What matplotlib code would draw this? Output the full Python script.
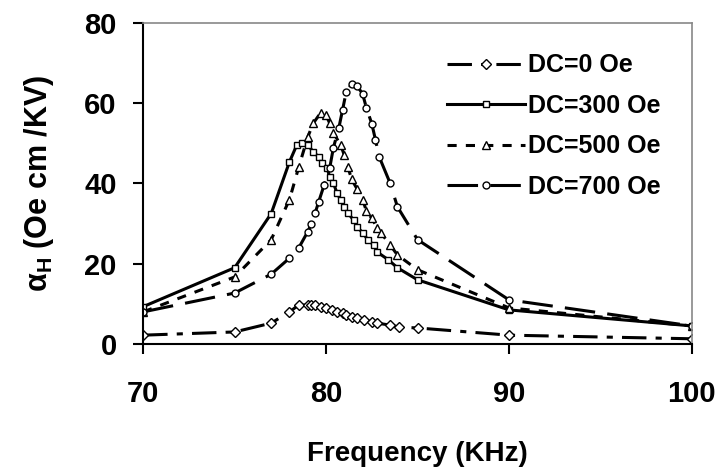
import matplotlib
matplotlib.use('Agg')
import matplotlib.pyplot as plt

# DC=0 Oe
f0 = [70, 75, 77, 78, 78.5, 79, 79.2, 79.4, 79.7, 80, 80.3, 80.6, 80.9, 81.1,
      81.4, 81.7, 82.1, 82.5, 82.8, 83.5, 84, 85, 90, 100]
v0 = [2.2, 3, 5.2, 8, 9.7, 9.7, 9.7, 9.7, 9.3, 9, 8.5, 8, 7.7, 7.2,
      6.7, 6.5, 6, 5.5, 5.2, 4.7, 4.2, 4, 2.2, 1.3]

# DC=300 Oe
f300 = [70, 75, 77, 78, 78.4, 78.7, 79, 79.3, 79.6, 79.8, 80.05, 80.2, 80.4, 80.6,
        80.8, 81, 81.2, 81.5, 81.7, 82, 82.3, 82.6, 82.8, 83.4, 83.9, 85, 90, 100]
v300 = [9.3, 19, 32.5, 45.4, 49.6, 50.1, 49.6, 47.9, 46.6, 45.1, 43.9, 41.6, 40.1, 37.6,
        35.9, 34.2, 32.6, 30.9, 29.2, 27.7, 25.9, 24.7, 22.9, 21, 19, 16, 8.5, 4.5]

# DC=500 Oe
f500 = [70, 75, 77, 78, 78.5, 79, 79.3, 79.7, 80, 80.2, 80.4, 80.8, 81, 81.2,
        81.4, 81.7, 82, 82.2, 82.5, 82.8, 83, 83.5, 83.9, 85, 90, 100]
v500 = [8, 16.7, 26, 36, 44, 51.6, 55, 57.6, 57, 55, 52.6, 49.6, 47, 44,
        41, 38.6, 36, 33.2, 31.3, 29, 27.7, 24.7, 22.2, 18.5, 9, 4.5]

# DC=700 Oe
f700 = [70, 75, 77, 78, 78.5, 79, 79.2, 79.4, 79.6, 79.9, 80.2, 80.4, 80.7, 80.9,
        81.1, 81.4, 81.7, 82, 82.2, 82.5, 82.7, 82.9, 83.5, 83.9, 85, 90, 100]
v700 = [8, 12.7, 17.4, 21.4, 23.9, 28, 30, 32.6, 35.5, 39.7, 43.9, 48.9, 53.9, 58.3,
        62.8, 64.8, 64.3, 62.3, 58.9, 54.9, 50.9, 46.7, 40.1, 34.2, 26, 11, 4.5]

labels = ['DC=0 Oe', 'DC=300 Oe', 'DC=500 Oe', 'DC=700 Oe']

plt.rcParams['font.family'] = ['Liberation Sans', 'DejaVu Sans']

fig = plt.figure(figsize=(7.23, 4.75), dpi=100)
ax = fig.add_axes([0.198, 0.2758, 0.759, 0.6758])

lw = 2.2
ax.plot(f0, v0, color='black', lw=lw, ls=(0, (8, 3, 2, 3)),
        marker='D', ms=5, mfc='white', mec='black', mew=1, label=labels[0])
ax.plot(f300, v300, color='black', lw=lw, ls='-',
        marker='s', ms=5, mfc='white', mec='black', mew=1, label=labels[1])
ax.plot(f500, v500, color='black', lw=lw, ls=(0, (3, 3)),
        marker='^', ms=6, mfc='white', mec='black', mew=1, label=labels[2])
ax.plot(f700, v700, color='black', lw=lw, ls=(0, (10, 4)),
        marker='o', ms=5, mfc='white', mec='black', mew=1, label=labels[3])

ax.set_xlim(70, 100)
ax.set_ylim(0, 80)
ax.set_xticks([70, 80, 90, 100])
ax.set_yticks([0, 20, 40, 60, 80])

for s in ['top', 'right']:
    ax.spines[s].set_color('#888888')
    ax.spines[s].set_linewidth(1.2)
for s in ['left', 'bottom']:
    ax.spines[s].set_color('black')
    ax.spines[s].set_linewidth(1.5)

ax.tick_params(axis='both', direction='out', length=7, width=1.5,
               labelsize=21)
ax.tick_params(axis='x', pad=19)
ax.tick_params(axis='y', pad=12)
for t in ax.get_xticklabels() + ax.get_yticklabels():
    t.set_fontweight('bold')

ax.set_xlabel('Frequency (KHz)', fontsize=20, fontweight='bold', labelpad=24)
ax.set_ylabel(r'$\mathregular{\alpha_H}$ (Oe cm /KV)', fontsize=22,
              fontweight='bold', labelpad=20)

leg = ax.legend(loc='upper left', bbox_to_anchor=(0.554, 0.905), frameon=False,
                prop={'weight': 'bold', 'size': 18}, handlelength=3.1,
                labelspacing=0.66, handletextpad=0.15,
                borderpad=0, borderaxespad=0)

fig.savefig('out.png', dpi=100, facecolor='white')
